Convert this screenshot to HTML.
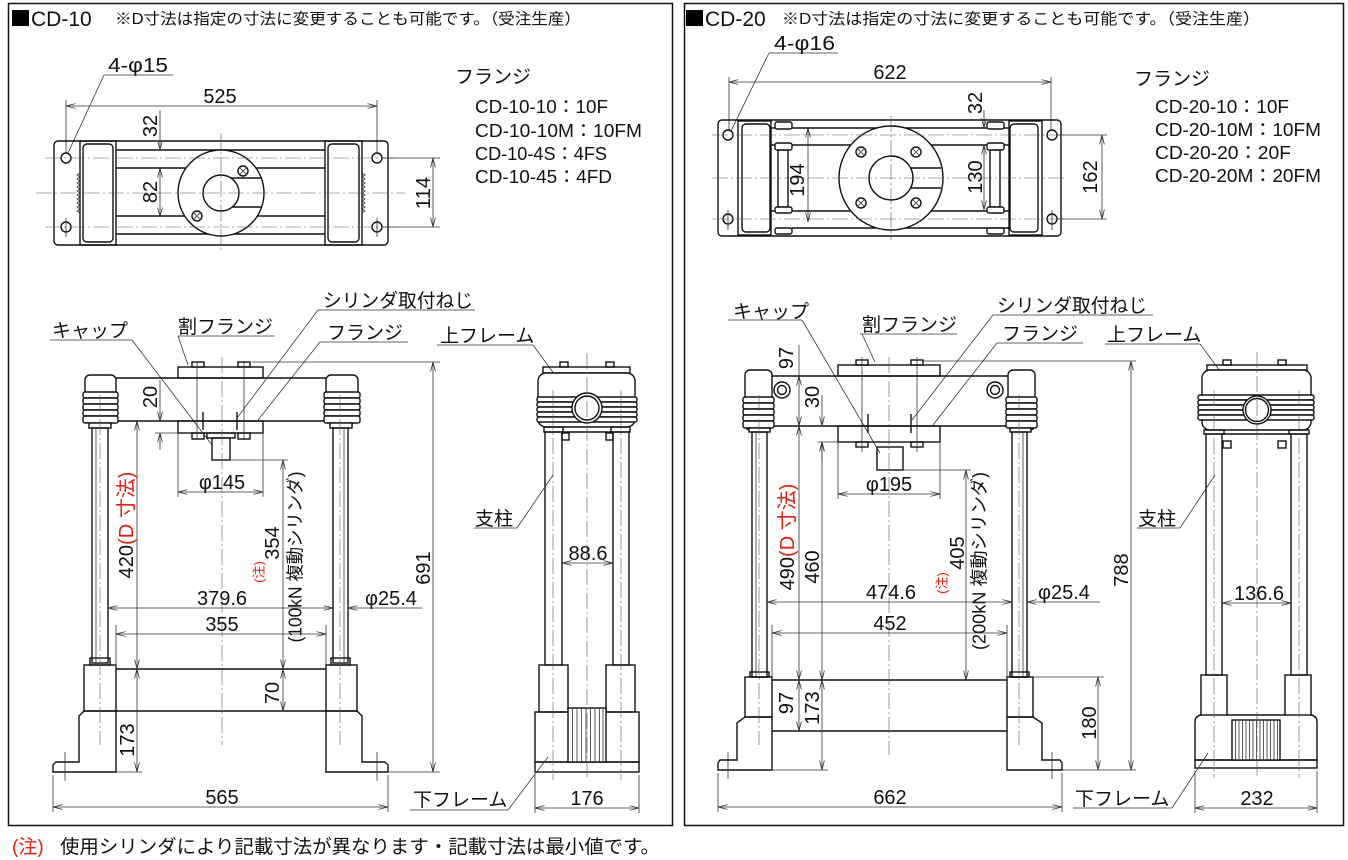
<!DOCTYPE html>
<html><head><meta charset="utf-8"><style>
html,body{margin:0;padding:0;background:#fff}
svg{display:block}
.o{fill:none;stroke:#111;stroke-width:1.4}
.w{fill:#fff;stroke:#111;stroke-width:1.4}
.t{fill:none;stroke:#333;stroke-width:.8}
.c{fill:none;stroke:#555;stroke-width:.6;stroke-dasharray:16 3 2 3}
.d{fill:none;stroke:#333;stroke-width:.8;marker-start:url(#a);marker-end:url(#a)}
.de{fill:none;stroke:#333;stroke-width:.8;marker-end:url(#a)}
.ds{fill:none;stroke:#333;stroke-width:.8;marker-start:url(#a)}
text{font-family:"Liberation Sans","Noto Sans CJK JP",sans-serif;fill:#111}
.n{font-size:20px}
.j{font-size:19px}
.r{fill:#e02010}
</style></head><body>
<svg width="1348" height="860" viewBox="0 0 1348 860" xmlns="http://www.w3.org/2000/svg">
<defs>
<marker id="a" viewBox="0 0 10 6" refX="9.5" refY="3" markerWidth="10" markerHeight="6" markerUnits="userSpaceOnUse" orient="auto-start-reverse"><path d="M0,0.6 L9.5,3 L0,5.4" fill="none" stroke="#333" stroke-width="0.8"/></marker>
</defs>

<!-- panels -->
<rect x="8.5" y="3.5" width="664" height="822" fill="none" stroke="#111" stroke-width="1.5"/>
<rect x="684.5" y="3.5" width="659" height="822" fill="none" stroke="#111" stroke-width="1.5"/>

<!-- ===================== LEFT PANEL CD-10 ===================== -->
<rect x="12" y="10" width="17" height="16" fill="#000"/>
<text x="31" y="26" font-size="21">CD-10</text>
<text x="115" y="24" font-size="15.5" textLength="466" lengthAdjust="spacingAndGlyphs">※D寸法は指定の寸法に変更することも可能です。（受注生産）</text>

<!-- flange list -->
<text x="455" y="83" class="j">フランジ</text>
<text x="475" y="113" font-size="18" textLength="133" lengthAdjust="spacingAndGlyphs">CD-10-10：10F</text>
<text x="475" y="137" font-size="18" textLength="167" lengthAdjust="spacingAndGlyphs">CD-10-10M：10FM</text>
<text x="475" y="160" font-size="18" textLength="132" lengthAdjust="spacingAndGlyphs">CD-10-4S：4FS</text>
<text x="475" y="183" font-size="18" textLength="137" lengthAdjust="spacingAndGlyphs">CD-10-45：4FD</text>

<!-- top view -->
<text x="108" y="72" class="n" textLength="60" lengthAdjust="spacingAndGlyphs">4-φ15</text>
<line class="t" x1="104" y1="75" x2="173" y2="75"/>
<line class="t" x1="104" y1="75" x2="68" y2="153"/>
<text x="220" y="103" class="n" text-anchor="middle">525</text>
<line class="d" x1="66" y1="106" x2="377" y2="106"/>
<line class="t" x1="66" y1="100" x2="66" y2="153"/>
<line class="t" x1="377" y1="100" x2="377" y2="153"/>

<rect class="o" x="54" y="141" width="334" height="104" rx="4"/>
<rect class="o" x="80" y="141" width="36" height="104"/>
<rect class="o" x="83" y="144" width="30" height="98" rx="4"/>
<rect class="o" x="325" y="141" width="37" height="104"/>
<rect class="o" x="328" y="144" width="31" height="98" rx="4"/>
<polyline class="t" points="80,173 77,175 80,177 77,179 80,181 77,183 80,185 77,187 80,189 77,191 80,193 77,195 80,197 77,199 80,201 77,203 80,205 77,207 80,209 77,211 80,213"/>
<polyline class="t" points="362,173 365,175 362,177 365,179 362,181 365,183 362,185 365,187 362,189 365,191 362,193 365,195 362,197 365,199 362,201 365,203 362,205 365,207 362,209 365,211 362,213"/>
<line class="o" x1="116" y1="150" x2="325" y2="150"/>
<line class="o" x1="116" y1="168" x2="325" y2="168"/>
<line class="o" x1="116" y1="216" x2="325" y2="216"/>
<line class="o" x1="116" y1="234" x2="325" y2="234"/>
<circle class="w" cx="221" cy="193" r="43"/>
<circle class="o" cx="221" cy="193" r="18"/>
<line class="o" x1="231" y1="178" x2="261" y2="178"/>
<line class="o" x1="232" y1="207" x2="261" y2="207"/>
<circle class="o" cx="243" cy="171" r="5"/><path class="t" d="M239.5,167.5 L246.5,174.5 M246.5,167.5 L239.5,174.5"/>
<circle class="o" cx="197" cy="216" r="5"/><path class="t" d="M193.5,212.5 L200.5,219.5 M200.5,212.5 L193.5,219.5"/>
<circle class="o" cx="66" cy="158" r="5"/><circle class="o" cx="66" cy="227" r="5"/>
<circle class="o" cx="377" cy="158" r="5"/><circle class="o" cx="377" cy="227" r="5"/>
<line class="c" x1="36" y1="193" x2="405" y2="193"/>
<line class="c" x1="45" y1="158" x2="400" y2="158"/>
<line class="c" x1="45" y1="227" x2="400" y2="227"/>
<line class="c" x1="221" y1="133" x2="221" y2="252"/>
<line class="t" x1="66" y1="218" x2="66" y2="237"/>
<line class="t" x1="377" y1="218" x2="377" y2="237"/>
<!-- 32 / 82 -->
<line class="de" x1="160" y1="110" x2="160" y2="150"/>
<line class="d" x1="160" y1="168" x2="160" y2="217"/>
<text class="n" text-anchor="middle" dy=".36em" transform="translate(150,126) rotate(-90)">32</text>
<text class="n" text-anchor="middle" dy=".36em" transform="translate(150,192) rotate(-90)">82</text>
<!-- 114 -->
<line class="t" x1="383" y1="158" x2="440" y2="158"/>
<line class="t" x1="383" y1="227" x2="440" y2="227"/>
<line class="d" x1="433" y1="158" x2="433" y2="227"/>
<text class="n" text-anchor="middle" dy=".36em" transform="translate(423,193) rotate(-90)">114</text>

<!-- front view labels -->
<text x="52" y="337" class="j" font-size="18">キャップ</text>
<line class="t" x1="50" y1="340" x2="132" y2="340"/>
<line class="t" x1="132" y1="340" x2="212" y2="445"/>
<text x="178" y="333" class="j">割フランジ</text>
<line class="t" x1="178" y1="336" x2="275" y2="336"/>
<line class="t" x1="178" y1="336" x2="188" y2="365"/>
<text x="323" y="307" class="j" textLength="150" lengthAdjust="spacingAndGlyphs">シリンダ取付ねじ</text>
<line class="t" x1="318" y1="310" x2="475" y2="310"/>
<line class="t" x1="318" y1="310" x2="237" y2="418"/>
<text x="327" y="339" class="j">フランジ</text>
<line class="t" x1="320" y1="342" x2="408" y2="342"/>
<line class="t" x1="320" y1="342" x2="258" y2="420"/>

<!-- front body -->
<rect class="o" x="178" y="367" width="85" height="11"/>
<rect class="o" x="192" y="362" width="12" height="5"/>
<rect class="o" x="238" y="362" width="12" height="5"/>
<line class="o" x1="116" y1="378" x2="326" y2="378"/>
<line class="o" x1="116" y1="421" x2="326" y2="421"/>
<rect class="o" x="178" y="421" width="85" height="12"/>
<rect class="o" x="192" y="433" width="12" height="6"/>
<rect class="o" x="238" y="433" width="12" height="6"/>
<rect class="o" x="207" y="433" width="28" height="5"/>
<rect class="o" x="212" y="438" width="18" height="22"/>
<line class="t" x1="197" y1="362" x2="197" y2="440"/>
<line class="t" x1="244" y1="362" x2="244" y2="440"/>
<line class="o" x1="203" y1="412" x2="203" y2="430"/>
<line class="o" x1="237" y1="412" x2="237" y2="430"/>
<!-- end caps -->
<rect class="w" x="85" y="375" width="31" height="48" rx="5"/>
<rect class="w" x="83" y="392" width="35" height="6" rx="2"/>
<rect class="w" x="83" y="398" width="35" height="6" rx="2"/>
<rect class="w" x="83" y="404" width="35" height="6" rx="2"/>
<rect class="w" x="83" y="410" width="35" height="6" rx="2"/>
<rect class="w" x="83" y="416" width="35" height="7" rx="2"/>
<rect class="w" x="89" y="423" width="22" height="5"/>
<rect class="w" x="326" y="375" width="32" height="48" rx="5"/>
<rect class="w" x="324" y="392" width="36" height="6" rx="2"/>
<rect class="w" x="324" y="398" width="36" height="6" rx="2"/>
<rect class="w" x="324" y="404" width="36" height="6" rx="2"/>
<rect class="w" x="324" y="410" width="36" height="6" rx="2"/>
<rect class="w" x="324" y="416" width="36" height="7" rx="2"/>
<rect class="w" x="330" y="423" width="22" height="5"/>
<!-- columns -->
<rect class="o" x="92" y="428" width="16" height="235"/>
<line class="t" x1="96" y1="428" x2="96" y2="663"/>
<rect class="o" x="333" y="428" width="15" height="235"/>
<line class="t" x1="344" y1="428" x2="344" y2="663"/>
<rect class="o" x="90" y="658" width="20" height="7"/>
<rect class="o" x="331" y="658" width="19" height="7"/>
<!-- base -->
<rect class="o" x="84" y="665" width="32" height="46"/>
<path class="o" d="M116,711 L84,711 L79,716 L79,762 L56,762 L53,765 L53,772 L116,772 Z"/>
<rect class="o" x="326" y="665" width="31" height="46"/>
<path class="o" d="M326,711 L357,711 L362,716 L362,762 L385,762 L388,765 L388,772 L326,772 Z"/>
<line class="o" x1="116" y1="669" x2="326" y2="669"/>
<line class="o" x1="116" y1="711" x2="326" y2="711"/>
<line class="t" x1="65" y1="752" x2="65" y2="781"/>
<line class="t" x1="377" y1="752" x2="377" y2="781"/>
<line class="c" x1="222" y1="357" x2="222" y2="745"/>
<line class="c" x1="100" y1="395" x2="100" y2="745"/>
<line class="c" x1="340" y1="395" x2="340" y2="745"/>

<!-- front dims -->
<line class="de" x1="160" y1="380" x2="160" y2="421"/>
<line class="ds" x1="160" y1="433" x2="160" y2="450"/>
<line class="t" x1="155" y1="433" x2="178" y2="433"/>
<text class="n" text-anchor="middle" dy=".36em" transform="translate(150,397) rotate(-90)">20</text>
<line class="t" x1="178" y1="433" x2="178" y2="497"/>
<line class="t" x1="263" y1="433" x2="263" y2="497"/>
<line class="d" x1="178" y1="492" x2="263" y2="492"/>
<text x="222" y="489" class="n" text-anchor="middle">φ145</text>
<line class="t" x1="230" y1="460" x2="288" y2="460"/>
<line class="d" x1="283" y1="460" x2="283" y2="669"/>
<line class="d" x1="283" y1="669" x2="283" y2="711"/>
<text class="n" text-anchor="middle" dy=".36em" transform="translate(272,543) rotate(-90)">354</text>
<text class="n" text-anchor="middle" dy=".36em" transform="translate(272,693) rotate(-90)">70</text>
<text font-size="18" text-anchor="middle" dy=".36em" textLength="171" lengthAdjust="spacingAndGlyphs" transform="translate(295,557) rotate(-90)">(100kN 複動シリンダ)</text>
<text class="r" font-size="13" text-anchor="middle" dy=".36em" transform="translate(259,572) rotate(-90)">(注)</text>
<line class="d" x1="137" y1="421" x2="137" y2="669"/>
<line class="d" x1="137" y1="669" x2="137" y2="772"/>
<line class="t" x1="116" y1="772" x2="142" y2="772"/>
<text class="n" text-anchor="middle" dy=".36em" transform="translate(126,525) rotate(-90)">420<tspan class="r">(D 寸法)</tspan></text>
<text class="n" text-anchor="middle" dy=".36em" transform="translate(127,740) rotate(-90)">173</text>
<line class="t" x1="252" y1="362" x2="440" y2="362"/>
<line class="t" x1="388" y1="772" x2="440" y2="772"/>
<line class="d" x1="433" y1="362" x2="433" y2="772"/>
<text class="n" text-anchor="middle" dy=".36em" transform="translate(423,568) rotate(-90)">691</text>
<line class="d" x1="108" y1="608" x2="333" y2="608"/>
<text x="222" y="605" class="n" text-anchor="middle">379.6</text>
<line class="ds" x1="348" y1="608" x2="422" y2="608"/>
<text x="365" y="605" class="n">φ25.4</text>
<line class="t" x1="116" y1="625" x2="116" y2="669"/>
<line class="t" x1="326" y1="625" x2="326" y2="669"/>
<line class="d" x1="116" y1="634" x2="326" y2="634"/>
<text x="222" y="631" class="n" text-anchor="middle">355</text>
<line class="t" x1="53" y1="775" x2="53" y2="812"/>
<line class="t" x1="388" y1="775" x2="388" y2="812"/>
<line class="d" x1="53" y1="807" x2="388" y2="807"/>
<text x="222" y="804" class="n" text-anchor="middle">565</text>

<!-- side view left -->
<text x="440" y="342" class="j">上フレーム</text>
<line class="t" x1="437" y1="345" x2="533" y2="345"/>
<line class="t" x1="533" y1="345" x2="555" y2="375"/>
<rect class="o" x="543" y="367" width="87" height="6"/>
<rect class="o" x="560" y="362" width="8" height="5"/>
<rect class="o" x="606" y="362" width="8" height="5"/>
<rect class="w" x="538" y="373" width="97" height="54" rx="8"/>
<rect class="w" x="537" y="397" width="100" height="5" rx="2"/>
<rect class="w" x="537" y="402" width="100" height="5" rx="2"/>
<rect class="w" x="537" y="407" width="100" height="5" rx="2"/>
<rect class="w" x="537" y="412" width="100" height="5" rx="2"/>
<rect class="w" x="537" y="417" width="100" height="5" rx="2"/>
<circle class="w" cx="587" cy="408" r="15"/>
<circle class="o" cx="587" cy="408" r="12"/>
<rect class="o" x="544" y="427" width="19" height="5"/>
<rect class="o" x="611" y="427" width="19" height="5"/>
<line class="o" x1="562" y1="432" x2="613" y2="432"/>
<rect class="o" x="545" y="432" width="17" height="233"/>
<rect class="o" x="613" y="432" width="16" height="233"/>
<rect class="o" x="562" y="433" width="7" height="7"/>
<rect class="o" x="606" y="433" width="7" height="7"/>
<rect class="o" x="539" y="665" width="29" height="47"/>
<rect class="o" x="606" y="665" width="29" height="47"/>
<rect class="o" x="535" y="712" width="104" height="50"/>
<rect class="o" x="535" y="762" width="104" height="10"/>
<rect class="w" x="568" y="708" width="38" height="54"/>
<path class="t" d="M572.5,708V762M577,708V762M581.5,708V762M586,708V762M590.5,708V762M595,708V762M599.5,708V762M603,708V762"/>
<line class="c" x1="587" y1="353" x2="587" y2="780"/>
<line class="c" x1="553" y1="390" x2="553" y2="780"/>
<line class="c" x1="621" y1="390" x2="621" y2="780"/>
<text x="475" y="525" class="j">支柱</text>
<line class="t" x1="474" y1="528" x2="517" y2="528"/>
<line class="t" x1="517" y1="528" x2="553" y2="475"/>
<line class="d" x1="562" y1="563" x2="613" y2="563"/>
<text x="588" y="560" class="n" text-anchor="middle">88.6</text>
<text x="413" y="806" class="j">下フレーム</text>
<line class="t" x1="410" y1="810" x2="508" y2="810"/>
<line class="t" x1="508" y1="810" x2="548" y2="757"/>
<line class="t" x1="535" y1="775" x2="535" y2="813"/>
<line class="t" x1="639" y1="775" x2="639" y2="813"/>
<line class="d" x1="535" y1="808" x2="639" y2="808"/>
<text x="587" y="805" class="n" text-anchor="middle">176</text>

<!-- ===================== RIGHT PANEL CD-20 ===================== -->
<rect x="686" y="10" width="17" height="16" fill="#000"/>
<text x="705" y="26" font-size="21">CD-20</text>
<text x="782" y="24" font-size="15.5" textLength="478" lengthAdjust="spacingAndGlyphs">※D寸法は指定の寸法に変更することも可能です。（受注生産）</text>

<text x="1134" y="85" class="j">フランジ</text>
<text x="1155" y="113" font-size="18" textLength="134" lengthAdjust="spacingAndGlyphs">CD-20-10：10F</text>
<text x="1155" y="136" font-size="18" textLength="166" lengthAdjust="spacingAndGlyphs">CD-20-10M：10FM</text>
<text x="1155" y="159" font-size="18" textLength="136" lengthAdjust="spacingAndGlyphs">CD-20-20：20F</text>
<text x="1155" y="182" font-size="18" textLength="166" lengthAdjust="spacingAndGlyphs">CD-20-20M：20FM</text>

<!-- top view -->
<text x="774" y="50" class="n" textLength="61" lengthAdjust="spacingAndGlyphs">4-φ16</text>
<line class="t" x1="769" y1="53" x2="838" y2="53"/>
<line class="t" x1="769" y1="53" x2="731" y2="131"/>
<text x="890" y="79" class="n" text-anchor="middle">622</text>
<line class="d" x1="729" y1="82" x2="1051" y2="82"/>
<line class="t" x1="729" y1="77" x2="729" y2="130"/>
<line class="t" x1="1051" y1="77" x2="1051" y2="130"/>

<rect class="o" x="718" y="120" width="343" height="116" rx="4"/>
<rect class="o" x="738" y="121" width="33" height="114"/>
<rect class="o" x="742" y="124" width="28" height="108" rx="4"/>
<rect class="o" x="1009" y="121" width="33" height="114"/>
<rect class="o" x="1010" y="124" width="28" height="108" rx="4"/>
<line class="o" x1="792" y1="128" x2="1009" y2="128"/>
<line class="o" x1="771" y1="145" x2="1009" y2="145"/>
<line class="o" x1="771" y1="211" x2="1009" y2="211"/>
<line class="o" x1="792" y1="228" x2="1009" y2="228"/>
<line class="o" x1="771" y1="128" x2="775" y2="128"/>
<!-- tie rods -->
<rect class="o" x="778" y="150" width="10" height="57"/>
<rect class="w" x="775" y="122" width="17" height="7" rx="2"/>
<rect class="w" x="775" y="143" width="17" height="7" rx="2"/>
<rect class="w" x="775" y="207" width="17" height="6" rx="2"/>
<rect class="w" x="775" y="228" width="17" height="6" rx="2"/>
<rect class="o" x="990" y="150" width="10" height="57"/>
<rect class="w" x="987" y="122" width="17" height="7" rx="2"/>
<rect class="w" x="987" y="143" width="17" height="7" rx="2"/>
<rect class="w" x="987" y="207" width="17" height="6" rx="2"/>
<rect class="w" x="987" y="228" width="17" height="6" rx="2"/>
<circle class="w" cx="891" cy="178" r="52"/>
<circle class="o" cx="891" cy="178" r="22"/>
<line class="o" x1="911" y1="168" x2="941" y2="168"/>
<line class="o" x1="911" y1="188" x2="941" y2="188"/>
<circle class="o" cx="861" cy="152" r="5"/><path class="t" d="M857.5,148.5L864.5,155.5M864.5,148.5L857.5,155.5"/>
<circle class="o" cx="916" cy="152" r="5"/><path class="t" d="M912.5,148.5L919.5,155.5M919.5,148.5L912.5,155.5"/>
<circle class="o" cx="861" cy="203" r="5"/><path class="t" d="M857.5,199.5L864.5,206.5M864.5,199.5L857.5,206.5"/>
<circle class="o" cx="916" cy="203" r="5"/><path class="t" d="M912.5,199.5L919.5,206.5M919.5,199.5L912.5,206.5"/>
<circle class="o" cx="728" cy="135" r="5"/><circle class="o" cx="728" cy="219" r="5"/>
<circle class="o" cx="1052" cy="135" r="5"/><circle class="o" cx="1052" cy="219" r="5"/>
<line class="c" x1="712" y1="178" x2="1066" y2="178"/>
<line class="c" x1="712" y1="135" x2="1066" y2="135"/>
<line class="c" x1="712" y1="219" x2="1066" y2="219"/>
<line class="c" x1="891" y1="116" x2="891" y2="240"/>
<line class="t" x1="728" y1="210" x2="728" y2="230"/>
<line class="t" x1="1052" y1="210" x2="1052" y2="230"/>
<!-- dims -->
<line class="d" x1="808" y1="128" x2="808" y2="222"/>
<text class="n" text-anchor="middle" dy=".36em" transform="translate(797,180) rotate(-90)">194</text>
<line class="de" x1="984" y1="110" x2="984" y2="128"/>
<line class="d" x1="984" y1="145" x2="984" y2="210"/>
<text class="n" text-anchor="middle" dy=".36em" transform="translate(975,103) rotate(-90)">32</text>
<text class="n" text-anchor="middle" dy=".36em" transform="translate(975,177) rotate(-90)">130</text>
<line class="t" x1="1058" y1="135" x2="1107" y2="135"/>
<line class="t" x1="1058" y1="219" x2="1107" y2="219"/>
<line class="d" x1="1102" y1="135" x2="1102" y2="219"/>
<text class="n" text-anchor="middle" dy=".36em" transform="translate(1090,177) rotate(-90)">162</text>

<!-- front labels -->
<text x="733" y="318" class="j" font-size="18">キャップ</text>
<line class="t" x1="728" y1="320" x2="802" y2="320"/>
<line class="t" x1="802" y1="320" x2="880" y2="453"/>
<text x="862" y="331" class="j">割フランジ</text>
<line class="t" x1="860" y1="334" x2="957" y2="334"/>
<line class="t" x1="862" y1="334" x2="875" y2="362"/>
<text x="997" y="312" class="j" textLength="150" lengthAdjust="spacingAndGlyphs">シリンダ取付ねじ</text>
<line class="t" x1="993" y1="315" x2="1153" y2="315"/>
<line class="t" x1="993" y1="315" x2="912" y2="420"/>
<text x="1002" y="340" class="j">フランジ</text>
<line class="t" x1="997" y1="343" x2="1083" y2="343"/>
<line class="t" x1="997" y1="343" x2="933" y2="425"/>
<text x="1107" y="341" class="j">上フレーム</text>
<line class="t" x1="1105" y1="344" x2="1200" y2="344"/>
<line class="t" x1="1200" y1="344" x2="1223" y2="375"/>

<!-- front body -->
<rect class="o" x="838" y="365" width="102" height="11"/>
<rect class="o" x="856" y="360" width="12" height="5"/>
<rect class="o" x="911" y="360" width="12" height="5"/>
<line class="o" x1="772" y1="376" x2="1008" y2="376"/>
<line class="o" x1="772" y1="426" x2="1008" y2="426"/>
<rect class="o" x="838" y="426" width="102" height="16"/>
<rect class="o" x="856" y="442" width="12" height="5"/>
<rect class="o" x="911" y="442" width="12" height="5"/>
<rect class="o" x="877" y="447" width="26" height="23"/>
<line class="t" x1="862" y1="357" x2="862" y2="452"/>
<line class="t" x1="917" y1="357" x2="917" y2="452"/>
<line class="o" x1="868" y1="414" x2="868" y2="433"/>
<line class="o" x1="911" y1="414" x2="911" y2="433"/>
<circle class="o" cx="782" cy="390" r="8"/><circle class="o" cx="782" cy="390" r="4.5"/>
<circle class="o" cx="995" cy="390" r="8"/><circle class="o" cx="995" cy="390" r="4.5"/>
<rect class="w" x="745" y="370" width="27" height="60" rx="5"/>
<rect class="w" x="743" y="397" width="31" height="6" rx="2"/>
<rect class="w" x="743" y="403" width="31" height="6" rx="2"/>
<rect class="w" x="743" y="409" width="31" height="6" rx="2"/>
<rect class="w" x="743" y="415" width="31" height="6" rx="2"/>
<rect class="w" x="743" y="421" width="31" height="7" rx="2"/>
<rect class="w" x="749" y="428" width="21" height="4"/>
<rect class="w" x="1008" y="370" width="27" height="60" rx="5"/>
<rect class="w" x="1006" y="397" width="31" height="6" rx="2"/>
<rect class="w" x="1006" y="403" width="31" height="6" rx="2"/>
<rect class="w" x="1006" y="409" width="31" height="6" rx="2"/>
<rect class="w" x="1006" y="415" width="31" height="6" rx="2"/>
<rect class="w" x="1006" y="421" width="31" height="7" rx="2"/>
<rect class="w" x="1010" y="428" width="21" height="4"/>
<rect class="o" x="752" y="432" width="15" height="245"/>
<line class="t" x1="756" y1="432" x2="756" y2="677"/>
<rect class="o" x="1012" y="432" width="15" height="245"/>
<line class="t" x1="1023" y1="432" x2="1023" y2="677"/>
<rect class="o" x="750" y="672" width="19" height="5"/>
<rect class="o" x="1010" y="672" width="19" height="5"/>
<rect class="o" x="745" y="677" width="27" height="40"/>
<path class="o" d="M772,717 L745,717 L737,723 L737,760 L720,760 L718,763 L718,770 L772,770 Z"/>
<rect class="o" x="1007" y="677" width="26" height="40"/>
<path class="o" d="M1007,717 L1033,717 L1042,723 L1042,760 L1060,760 L1062,763 L1062,770 L1007,770 Z"/>
<line class="o" x1="772" y1="680" x2="1007" y2="680"/>
<line class="o" x1="772" y1="731" x2="1007" y2="731"/>
<line class="t" x1="728" y1="752" x2="728" y2="779"/>
<line class="t" x1="1052" y1="752" x2="1052" y2="779"/>
<line class="c" x1="889" y1="357" x2="889" y2="755"/>
<line class="c" x1="759" y1="395" x2="759" y2="745"/>
<line class="c" x1="1019" y1="395" x2="1019" y2="745"/>

<!-- front dims -->
<line class="t" x1="799" y1="345" x2="799" y2="376"/>
<line class="d" x1="799" y1="376" x2="799" y2="426"/>
<text class="n" text-anchor="middle" dy=".36em" transform="translate(786,358) rotate(-90)">97</text>
<line class="de" x1="822" y1="395" x2="822" y2="426"/>
<line class="ds" x1="822" y1="442" x2="822" y2="460"/>
<line class="t" x1="818" y1="442" x2="838" y2="442"/>
<text class="n" text-anchor="middle" dy=".36em" transform="translate(812,397) rotate(-90)">30</text>
<line class="d" x1="799" y1="426" x2="799" y2="680"/>
<text class="n" text-anchor="middle" dy=".36em" transform="translate(787,537) rotate(-90)">490<tspan class="r">(D 寸法)</tspan></text>
<line class="d" x1="822" y1="442" x2="822" y2="680"/>
<text class="n" text-anchor="middle" dy=".36em" transform="translate(812,567) rotate(-90)">460</text>
<line class="d" x1="799" y1="680" x2="799" y2="731"/>
<text class="n" text-anchor="middle" dy=".36em" transform="translate(786,703) rotate(-90)">97</text>
<line class="d" x1="822" y1="680" x2="822" y2="770"/>
<line class="t" x1="772" y1="770" x2="828" y2="770"/>
<text class="n" text-anchor="middle" dy=".36em" transform="translate(812,708) rotate(-90)">173</text>
<line class="t" x1="838" y1="442" x2="838" y2="499"/>
<line class="t" x1="940" y1="442" x2="940" y2="499"/>
<line class="d" x1="838" y1="494" x2="940" y2="494"/>
<text x="889" y="491" class="n" text-anchor="middle">φ195</text>
<line class="t" x1="903" y1="470" x2="971" y2="470"/>
<line class="d" x1="966" y1="470" x2="966" y2="680"/>
<text class="n" text-anchor="middle" dy=".36em" transform="translate(957,553) rotate(-90)">405</text>
<text font-size="18" text-anchor="middle" dy=".36em" textLength="178" lengthAdjust="spacingAndGlyphs" transform="translate(979,561) rotate(-90)">(200kN 複動シリンダ)</text>
<text class="r" font-size="13" text-anchor="middle" dy=".36em" transform="translate(942,583) rotate(-90)">(注)</text>
<line class="t" x1="922" y1="361" x2="1136" y2="361"/>
<line class="t" x1="1062" y1="770" x2="1136" y2="770"/>
<line class="d" x1="1131" y1="361" x2="1131" y2="770"/>
<text class="n" text-anchor="middle" dy=".36em" transform="translate(1121,570) rotate(-90)">788</text>
<line class="t" x1="1033" y1="677" x2="1104" y2="677"/>
<line class="d" x1="1098" y1="677" x2="1098" y2="770"/>
<text class="n" text-anchor="middle" dy=".36em" transform="translate(1089,723) rotate(-90)">180</text>
<line class="d" x1="767" y1="602" x2="1012" y2="602"/>
<text x="891" y="599" class="n" text-anchor="middle">474.6</text>
<line class="ds" x1="1027" y1="602" x2="1100" y2="602"/>
<text x="1038" y="599" class="n">φ25.4</text>
<line class="t" x1="772" y1="625" x2="772" y2="680"/>
<line class="t" x1="1007" y1="625" x2="1007" y2="680"/>
<line class="d" x1="772" y1="633" x2="1007" y2="633"/>
<text x="890" y="630" class="n" text-anchor="middle">452</text>
<line class="t" x1="718" y1="773" x2="718" y2="812"/>
<line class="t" x1="1062" y1="773" x2="1062" y2="812"/>
<line class="d" x1="718" y1="807" x2="1062" y2="807"/>
<text x="890" y="804" class="n" text-anchor="middle">662</text>

<!-- side view right -->
<rect class="o" x="1207" y="365" width="100" height="5"/>
<rect class="o" x="1223" y="360" width="8" height="5"/>
<rect class="o" x="1278" y="360" width="8" height="5"/>
<rect class="w" x="1202" y="370" width="109" height="60" rx="8"/>
<rect class="w" x="1198" y="395" width="116" height="5" rx="2"/>
<rect class="w" x="1198" y="400" width="116" height="5" rx="2"/>
<rect class="w" x="1198" y="405" width="116" height="5" rx="2"/>
<rect class="w" x="1198" y="410" width="116" height="5" rx="2"/>
<rect class="w" x="1198" y="415" width="116" height="5" rx="2"/>
<circle class="w" cx="1257" cy="410" r="14"/>
<circle class="o" cx="1257" cy="410" r="11.5"/>
<rect class="o" x="1204" y="430" width="20" height="4"/>
<rect class="o" x="1289" y="430" width="20" height="4"/>
<line class="o" x1="1222" y1="434" x2="1291" y2="434"/>
<rect class="o" x="1206" y="434" width="16" height="241"/>
<rect class="o" x="1291" y="434" width="16" height="241"/>
<rect class="o" x="1223" y="441" width="8" height="7"/>
<rect class="o" x="1278" y="441" width="8" height="7"/>
<rect class="o" x="1201" y="675" width="26" height="40"/>
<rect class="o" x="1285" y="675" width="26" height="40"/>
<path class="o" d="M1201,715 Q1195,716 1195,722 L1195,760 L1317,760 L1317,722 Q1317,716 1311,715"/>
<line class="o" x1="1227" y1="715" x2="1285" y2="715"/>
<rect class="o" x="1195" y="760" width="122" height="8"/>
<rect class="w" x="1232" y="720" width="48" height="40"/>
<path class="t" d="M1235.5,720V760M1239,720V760M1242.5,720V760M1246,720V760M1249.5,720V760M1253,720V760M1256.5,720V760M1260,720V760M1263.5,720V760M1267,720V760M1270.5,720V760M1274,720V760M1277.5,720V760"/>
<line class="c" x1="1257" y1="352" x2="1257" y2="778"/>
<line class="c" x1="1214" y1="390" x2="1214" y2="778"/>
<line class="c" x1="1299" y1="390" x2="1299" y2="778"/>
<text x="1138" y="525" class="j">支柱</text>
<line class="t" x1="1137" y1="528" x2="1180" y2="528"/>
<line class="t" x1="1180" y1="528" x2="1215" y2="475"/>
<line class="d" x1="1222" y1="603" x2="1291" y2="603"/>
<text x="1259" y="600" class="n" text-anchor="middle">136.6</text>
<text x="1075" y="805" class="j">下フレーム</text>
<line class="t" x1="1073" y1="808" x2="1172" y2="808"/>
<line class="t" x1="1172" y1="808" x2="1208" y2="753"/>
<line class="t" x1="1195" y1="771" x2="1195" y2="813"/>
<line class="t" x1="1317" y1="771" x2="1317" y2="813"/>
<line class="d" x1="1195" y1="808" x2="1317" y2="808"/>
<text x="1257" y="805" class="n" text-anchor="middle">232</text>

<!-- bottom note -->
<text x="12" y="853" font-size="19" class="r">(注)</text>
<text x="60" y="853" font-size="19" textLength="600" lengthAdjust="spacingAndGlyphs">使用シリンダにより記載寸法が異なります・記載寸法は最小値です。</text>
</svg>
</body></html>
